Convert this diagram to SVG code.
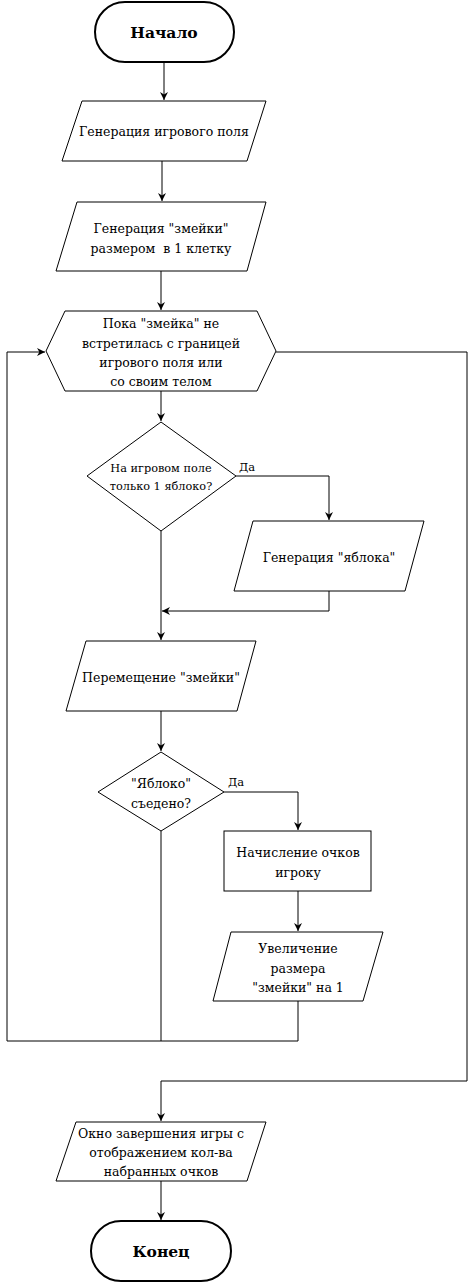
<svg xmlns="http://www.w3.org/2000/svg" width="476" height="1282" viewBox="0 0 476 1282">
<style>
.s{fill:#fff;stroke:#000;stroke-width:1}
.t{fill:#fff;stroke:#000;stroke-width:2}
.c{fill:none;stroke:#000;stroke-width:1}
text{font-family:'DejaVu Serif','Liberation Serif',serif;font-size:12.5px;fill:#000;text-anchor:middle;white-space:pre}
.b{font-weight:bold;font-size:15.5px}
.sm{font-size:11.3px}
.l{text-anchor:start;font-size:11.5px}
</style>
<defs>
<marker id="a" viewBox="0 0 10 10" refX="10" refY="5" markerWidth="8" markerHeight="8" markerUnits="userSpaceOnUse" orient="auto">
<path d="M0,0 L10,5 L0,10 L3,5 Z" fill="#000"/>
</marker>
</defs>
<rect width="476" height="1282" fill="#fff"/>
<g id="connectors">
<path class="c" d="M164,62 V100" marker-end="url(#a)"/>
<path class="c" d="M162,161 V201" marker-end="url(#a)"/>
<path class="c" d="M161,271 V310" marker-end="url(#a)"/>
<path class="c" d="M161,391 V421" marker-end="url(#a)"/>
<path class="c" d="M236,476 H329 V520" marker-end="url(#a)"/>
<path class="c" d="M329,591 V611 H162" marker-end="url(#a)"/>
<path class="c" d="M161,531 V640" marker-end="url(#a)"/>
<path class="c" d="M161,711 V751" marker-end="url(#a)"/>
<path class="c" d="M224,792 H298 V830" marker-end="url(#a)"/>
<path class="c" d="M298,891 V931" marker-end="url(#a)"/>
<path class="c" d="M161,831 V1041"/>
<path class="c" d="M298,1001 V1041 H7 V352 H45" marker-end="url(#a)"/>
<path class="c" d="M276,352 H467 V1081 H161 V1121" marker-end="url(#a)"/>
<path class="c" d="M161,1181 V1220" marker-end="url(#a)"/>
<text class="l" x="239" y="471">Да</text>
<text class="l" x="228" y="786">Да</text>
</g>
<g id="start">
<rect class="t" x="95" y="2" width="139" height="60" rx="30" ry="30"/>
<text class="b" x="164" y="38">Начало</text>
</g>
<g id="gen-field">
<polygon class="s" points="82,101 266,101 247,161 62,161"/>
<text x="164" y="136">Генерация игрового поля</text>
</g>
<g id="gen-snake">
<polygon class="s" points="77,202 266,202 247,271 56,271"/>
<text x="161" y="233">Генерация "змейки"</text>
<text x="161" y="253" xml:space="preserve">размером  в 1 клетку</text>
</g>
<g id="loop">
<polygon class="s" points="65,311 257,311 276,351 257,391 65,391 46,351"/>
<text x="161" y="328">Пока "змейка" не</text>
<text x="161" y="348">встретилась с границей</text>
<text x="161" y="367">игрового поля или</text>
<text x="161" y="386">со своим телом</text>
</g>
<g id="check-apple">
<polygon class="s" points="161,422 236,476 161,531 87,476"/>
<text class="sm" x="161" y="472">На игровом поле</text>
<text class="sm" x="161" y="490">только 1 яблоко?</text>
</g>
<g id="gen-apple">
<polygon class="s" points="253,521 424,521 405,591 234,591"/>
<text x="329" y="562">Генерация "яблока"</text>
</g>
<g id="move">
<polygon class="s" points="86,641 256,641 237,711 66,711"/>
<text x="161" y="682">Перемещение "змейки"</text>
</g>
<g id="eaten">
<polygon class="s" points="161,752 224,792 161,831 98,792"/>
<text x="161" y="788">"Яблоко"</text>
<text x="161" y="808">съедено?</text>
</g>
<g id="score">
<rect class="s" x="224" y="831" width="147" height="60"/>
<text x="298" y="857">Начисление очков</text>
<text x="298" y="877">игроку</text>
</g>
<g id="grow">
<polygon class="s" points="231,932 383,932 363,1001 213,1001"/>
<text x="298" y="953">Увеличение</text>
<text x="298" y="973">размера</text>
<text x="298" y="992">"змейки" на 1</text>
</g>
<g id="game-over">
<polygon class="s" points="76,1122 266,1122 247,1181 56,1181"/>
<text x="161" y="1138">Окно завершения игры с</text>
<text x="161" y="1157">отображением кол-ва</text>
<text x="161" y="1176">набранных очков</text>
</g>
<g id="end">
<rect class="t" x="91" y="1221" width="140" height="60" rx="30" ry="30"/>
<text class="b" x="161" y="1257">Конец</text>
</g>
</svg>
